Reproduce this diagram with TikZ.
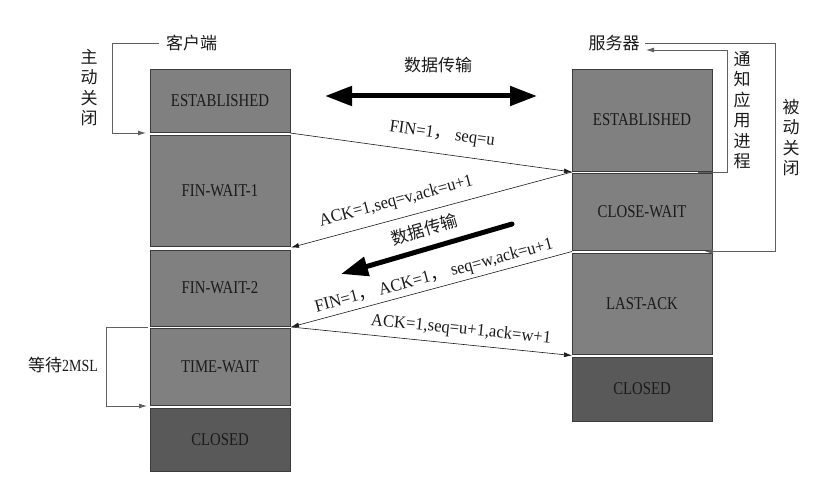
\documentclass[tikz,border=0pt]{standalone}
\usepackage{fontspec}
\setmainfont{Liberation Serif}
\newfontfamily\cjk{Noto Sans CJK SC}
\newfontfamily\boxfont[FakeStretch=0.82]{Liberation Serif}
\newfontfamily\msgfont[FakeStretch=0.95]{Liberation Serif}
\usetikzlibrary{arrows.meta}
\definecolor{boxgray}{HTML}{808080}
\definecolor{boxdark}{HTML}{595959}
\definecolor{edgegray}{HTML}{3C3C3C}
\definecolor{txt}{HTML}{1A1A1A}
\definecolor{brk}{HTML}{606060}
\begin{document}
\begin{tikzpicture}[x=1pt,y=-1pt,
  state/.style={draw=edgegray, line width=0.8pt, fill=boxgray, minimum width=140pt,
    inner sep=0pt, text=txt, font=\boxfont\fontsize{18}{20}\selectfont},
  closedstate/.style={state, fill=boxdark},
  msg/.style={draw=txt, line width=0.6pt, -{Latex[length=8pt,width=5pt]}},
  msglabel/.style={sloped, text=txt, inner sep=1pt, font=\msgfont\fontsize{17.5}{19}\selectfont},
  bracket/.style={draw=brk, line width=0.8pt, -{Latex[length=8pt,width=5pt]}},
  cjklabel/.style={font=\cjk\fontsize{17}{20.5}\selectfont, text=txt, align=center, inner sep=0pt},
  bigarrow/.style={line width=5pt, line cap=round, draw=black},
  bighead/.tip={Triangle[length=27pt,width=19pt]},
]
\useasboundingbox (0,0) rectangle (818,486);

% client states
\node[state, minimum height=63pt]  (L1) at (220,100.5) {ESTABLISHED};
\node[state, minimum height=111pt] (L2) at (220,190.5) {FIN-WAIT-1};
\node[state, minimum height=76pt]  (L3) at (220,288)   {FIN-WAIT-2};
\node[state, minimum height=77pt]  (L4) at (220,366.5) {TIME-WAIT};
\node[closedstate, minimum height=63pt] (L5) at (220,439.5) {CLOSED};

% server states
\node[state, minimum height=102pt] (R1) at (642,120)   {ESTABLISHED};
\node[state, minimum height=77pt]  (R2) at (642,211.5) {CLOSE-WAIT};
\node[state, minimum height=101pt] (R3) at (642,303.5) {LAST-ACK};
\node[closedstate, minimum height=64pt] (R4) at (642,389) {CLOSED};

% gap coordinates
\coordinate (gL12) at (290,133);
\coordinate (gR12) at (572,172);
\coordinate (gL23) at (291,247.5);
\coordinate (gR23) at (572,251.5);
\coordinate (gL34) at (291,327);
\coordinate (gR34) at (572,355.5);

% messages
\draw[msg] (gL12) -- node[msglabel, above=10pt, pos=0.53] (m1) {FIN=1{\cjk ，} seq=u} (gR12);
\draw[msg] (gR12) -- node[msglabel, above=8pt, pos=0.61] (m2) {ACK=1,seq=v,ack=u+1} (gL23);
\draw[msg] (gR23) -- node[msglabel, above=2.5pt, pos=0.48] (m3) {FIN=1{\cjk ，} ACK=1{\cjk ，} seq=w,ack=u+1} (gL34);
\draw[msg] (gL34) -- node[msglabel, above=5pt, pos=0.6] (m4) {ACK=1,seq=u+1,ack=w+1} (gR34);

% data transfer arrows
\node[cjklabel] (dt1) at (438,65) {数据传输};
\coordinate (dA) at (325,96);
\coordinate (dB) at (537,96);
\draw[bigarrow, bighead-bighead] (dA) -- (dB);
\coordinate (dC) at (512,224);
\coordinate (dD) at (341,274);
\draw[bigarrow, -bighead] (dC) -- node[cjklabel, sloped, above=9pt, pos=0.48] (dt2) {数据传输} (dD);

% client brackets
\node[cjklabel] (client) at (191.5,43) {客户端};
\node[cjklabel] (active) at (89,87.5) {主\\动\\关\\闭};
\coordinate (cgap) at (146,133);
\draw[bracket] (client.west) ++(-6.5,0) -| ++(-47,90) -- (cgap);

\node[cjklabel] (wait) at (63,365) {等待{\boxfont\fontsize{17}{18}\selectfont 2MSL}};
\coordinate (tw1) at (148,327.5);
\coordinate (tw2) at (147,406);
\draw[bracket] (tw1) -- ++(-42,0) |- (tw2);

% server brackets
\node[cjklabel] (server) at (614,43) {服务器};
\node[cjklabel] (notify) at (742,110.5) {通\\知\\应\\用\\进\\程};
\node[cjklabel] (passive) at (791,137.5) {被\\动\\关\\闭};
\coordinate (sgap1) at (698,172);
\coordinate (sgap2) at (705,251.5);
\coordinate (srvin) at (646,50);
\draw[bracket] (sgap1) -- ++(29,0) |- (srvin);
\draw[bracket] (server.east) ++(5.5,0) -| ++(130,208.5) -- (sgap2);
\end{tikzpicture}
\end{document}
